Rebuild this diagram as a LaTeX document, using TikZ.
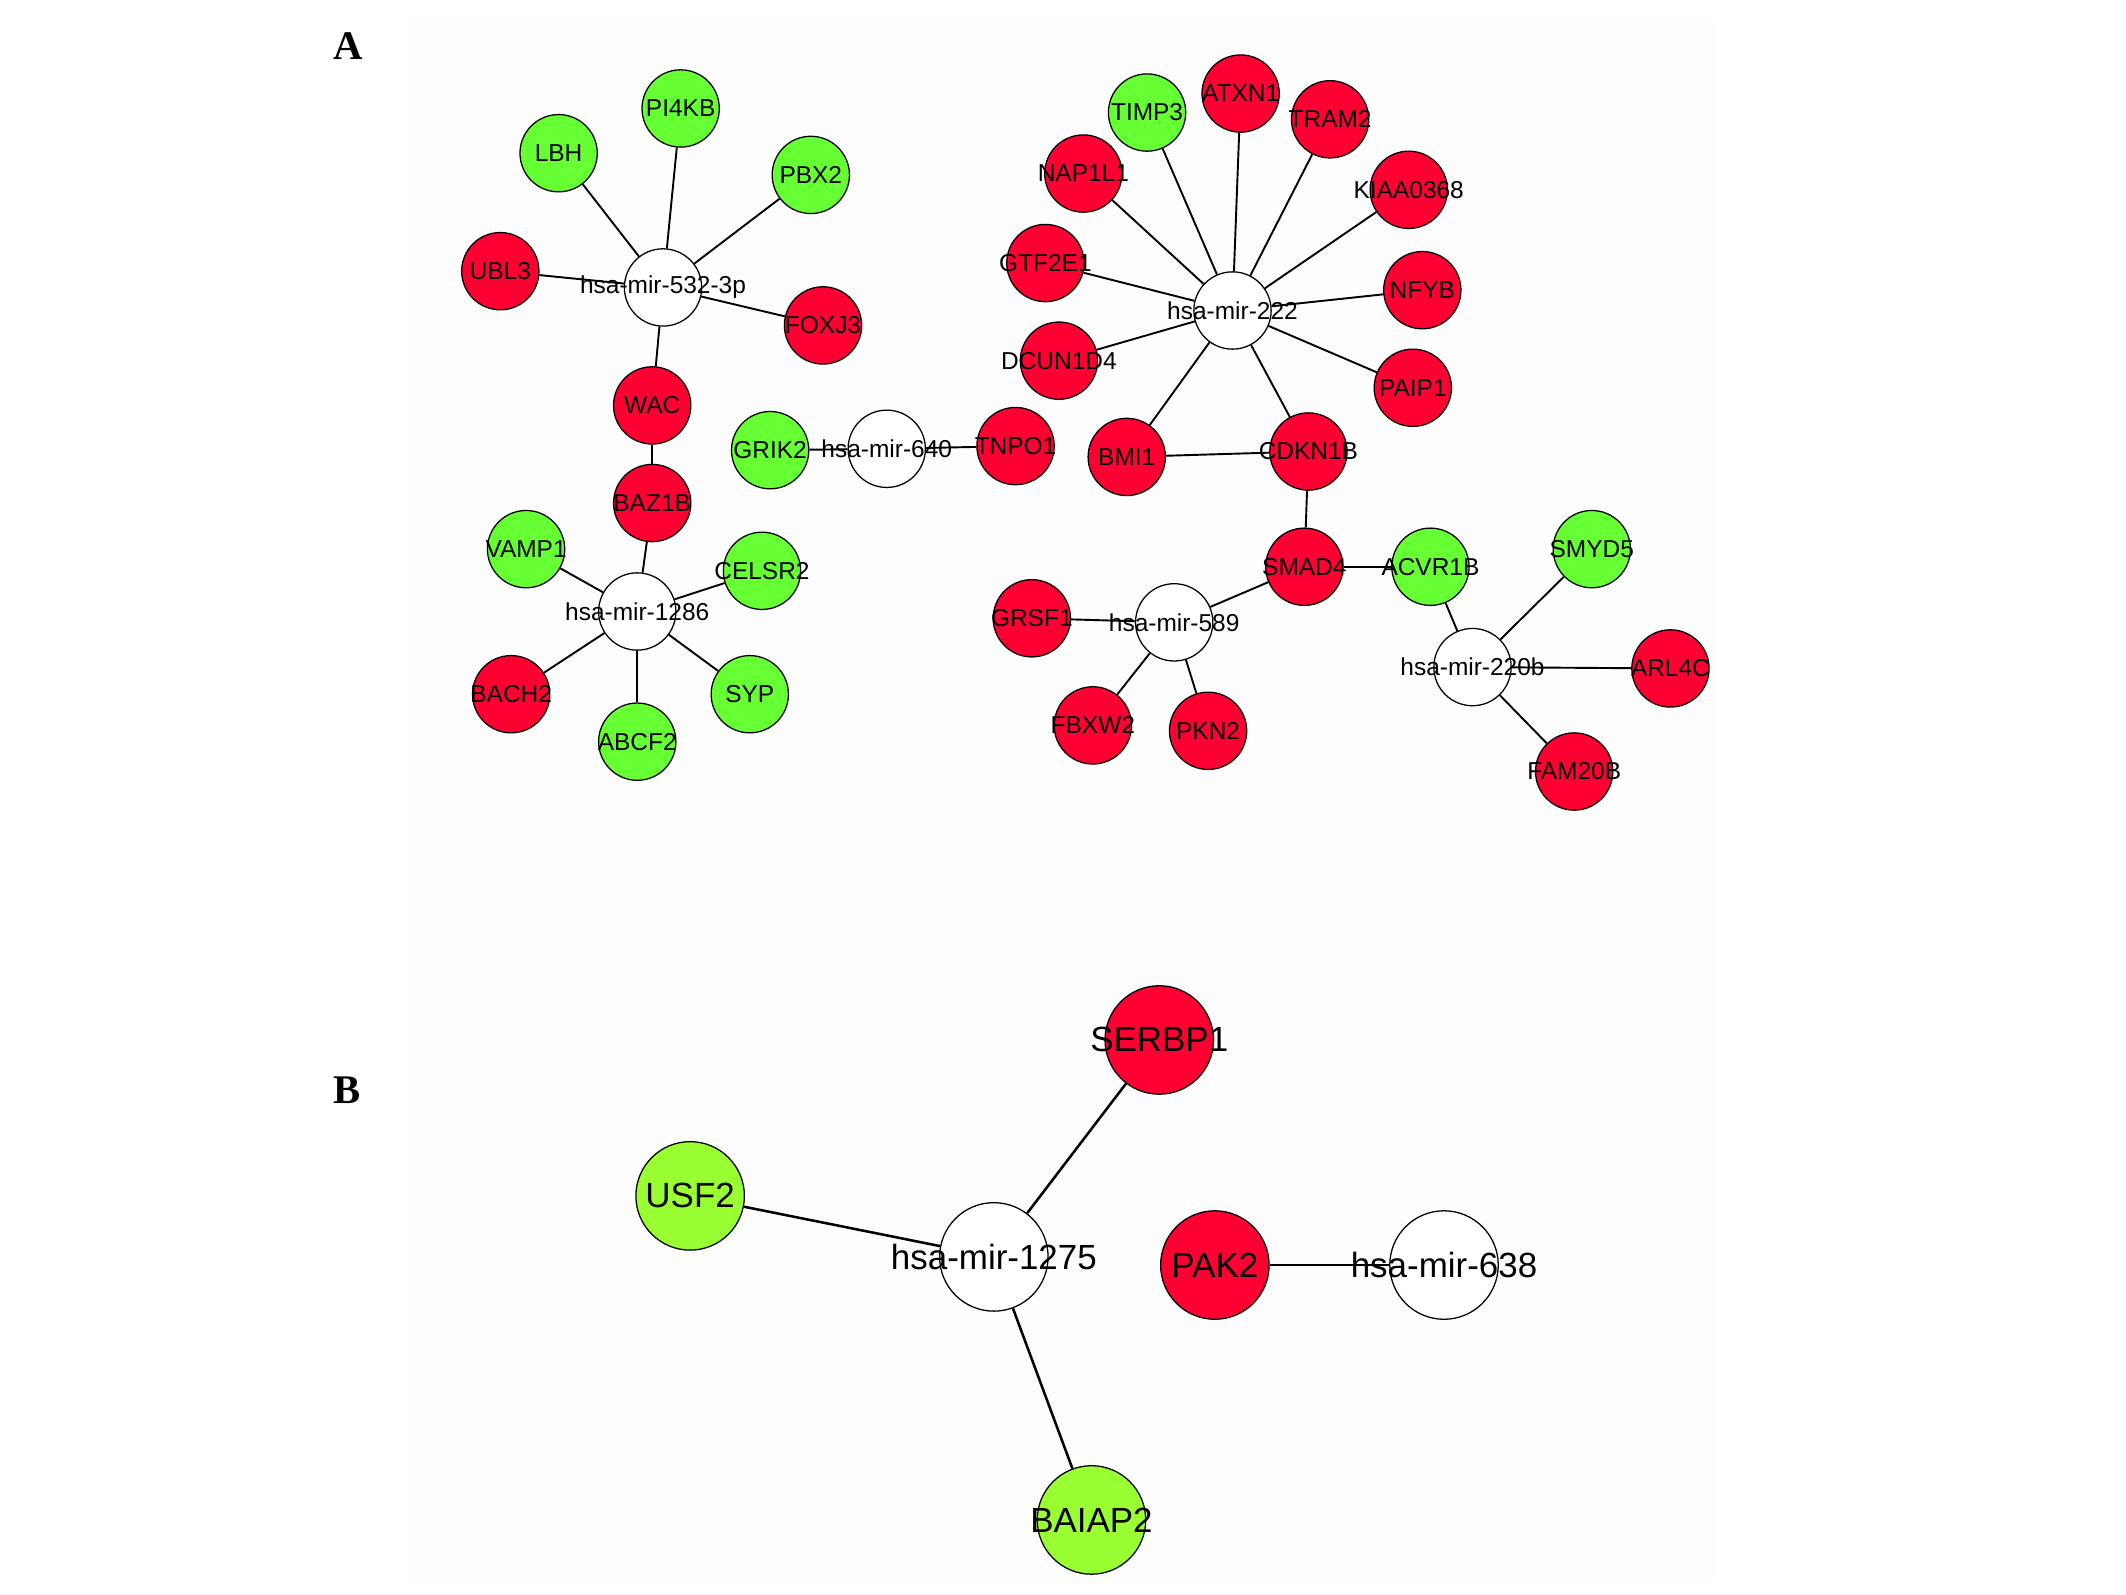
\documentclass[tikz,border=0pt]{standalone}
\usepackage{fontspec}
\setmainfont{Liberation Sans}
\newfontfamily\panelfont{Liberation Serif}
\usepackage{xcolor}
\definecolor{upred}{RGB}{255,0,51}
\definecolor{downgreen}{RGB}{102,255,51}
\definecolor{limegreen}{RGB}{153,255,51}
\begin{document}
\begin{tikzpicture}[x=0.015cm, y=-0.015cm,
    gene/.style={circle, draw, line width=0.4pt, inner sep=0, minimum size=0.855cm},
    up/.style={gene, fill=upred},
    down/.style={gene, fill=downgreen},
    lime/.style={gene, fill=limegreen},
    mir/.style={gene, fill=white},
    link/.style={line width=0.6pt},
    panel/.style={font=\panelfont\bfseries\fontsize{12.8}{14}\selectfont}]
  \useasboundingbox (0,0) rectangle (1568,1176);
  \fill[black!0.8] (300,15) rectangle (1265,1165);

  % A: miRNA-gene network
  \node[panel] (labA) at (257,34) {A};
  \begin{scope}[every label/.style={font=\fontsize{7.7}{8}\selectfont}]
    \foreach \g/\x/\y/\s in {hsa-mir-532-3p/489/212/mir, LBH/412/113/down, PI4KB/502/80/down,
        PBX2/598/129/down, UBL3/369/200/up, FOXJ3/607/240/up, WAC/481/299/up, BAZ1B/481/371/up,
        hsa-mir-1286/470/451/mir, VAMP1/388/405/down, CELSR2/562/421/down, BACH2/377/512/up,
        ABCF2/470/547/down, SYP/553/512/down, GRIK2/568/332/down, hsa-mir-640/654/331/mir,
        TNPO1/749/329/up, hsa-mir-222/909/229/mir, TIMP3/846/83/down, ATXN1/915/69/up,
        TRAM2/981/88/up, NAP1L1/799/128/up, KIAA0368/1039/140/up, GTF2E1/771/194/up,
        NFYB/1049/214/up, DCUN1D4/781/266/up, PAIP1/1042/286/up, BMI1/831/337/up,
        CDKN1B/965/333/up, SMAD4/962/418/up, ACVR1B/1055/418/down, hsa-mir-589/866/459/mir,
        GRSF1/761/456/up, FBXW2/806/535/up, PKN2/891/539/up, hsa-mir-220b/1086/492/mir,
        SMYD5/1174/405/down, ARL4C/1232/493/up, FAM20B/1161/569/up}
      \node[\s, label=center:\g] (\g) at (\x,\y) {};
    \foreach \a/\b in {hsa-mir-532-3p/LBH, hsa-mir-532-3p/PI4KB, hsa-mir-532-3p/PBX2,
        hsa-mir-532-3p/UBL3, hsa-mir-532-3p/FOXJ3, hsa-mir-532-3p/WAC, WAC/BAZ1B,
        hsa-mir-1286/BAZ1B, hsa-mir-1286/VAMP1, hsa-mir-1286/CELSR2, hsa-mir-1286/BACH2,
        hsa-mir-1286/ABCF2, hsa-mir-1286/SYP, hsa-mir-640/GRIK2, hsa-mir-640/TNPO1,
        hsa-mir-222/TIMP3, hsa-mir-222/ATXN1, hsa-mir-222/TRAM2, hsa-mir-222/NAP1L1,
        hsa-mir-222/KIAA0368, hsa-mir-222/GTF2E1, hsa-mir-222/NFYB, hsa-mir-222/DCUN1D4,
        hsa-mir-222/PAIP1, hsa-mir-222/BMI1, hsa-mir-222/CDKN1B, BMI1/CDKN1B, CDKN1B/SMAD4,
        SMAD4/ACVR1B, hsa-mir-589/SMAD4, hsa-mir-589/GRSF1, hsa-mir-589/FBXW2, hsa-mir-589/PKN2,
        hsa-mir-220b/ACVR1B, hsa-mir-220b/SMYD5, hsa-mir-220b/ARL4C, hsa-mir-220b/FAM20B}
      \draw[link] (\a) -- (\b);
  \end{scope}

  % B: second network
  \node[panel] (labB) at (256,804) {B};
  \begin{scope}[gene/.append style={minimum size=1.2cm},
      every label/.style={font=\fontsize{11}{12}\selectfont}]
    \foreach \g/\x/\y/\s in {SERBP1/855/767/up, USF2/509/882/lime, hsa-mir-1275/733/927/mir,
        BAIAP2/805/1121/lime, PAK2/896/933/up, hsa-mir-638/1065/933/mir}
      \node[\s, label=center:\g] (\g) at (\x,\y) {};
    \foreach \a/\b in {hsa-mir-1275/SERBP1, hsa-mir-1275/USF2, hsa-mir-1275/BAIAP2,
        PAK2/hsa-mir-638}
      \draw[link, line width=0.8pt] (\a) -- (\b);
  \end{scope}
\end{tikzpicture}
\end{document}
